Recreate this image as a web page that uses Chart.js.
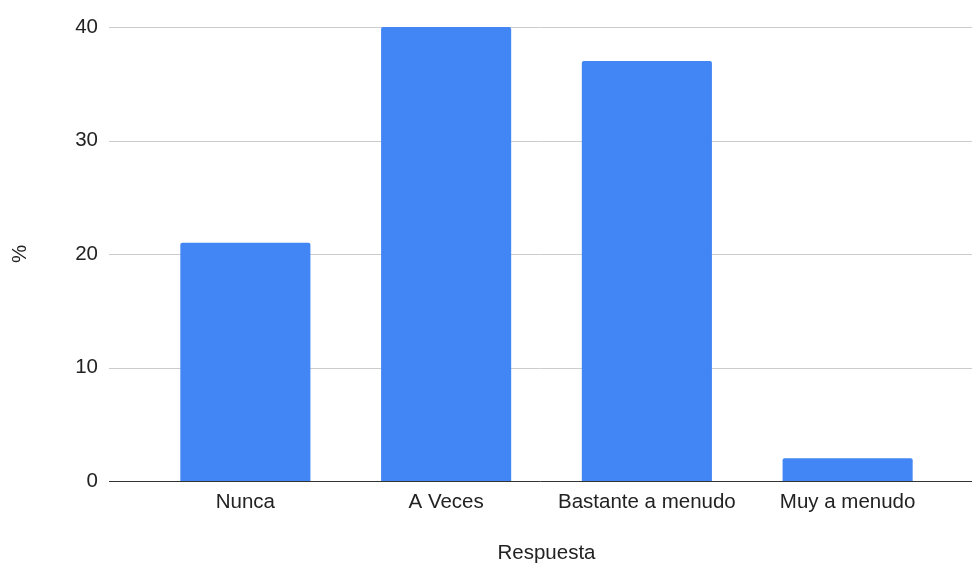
<!DOCTYPE html>
<html>
<head>
<meta charset="utf-8">
<script src="https://cdn.jsdelivr.net/npm/chart.js@4"></script>
<style>
  html, body { margin: 0; padding: 0; background: #fff; }
  #wrap { width: 972px; height: 564px; }
</style>
</head>
<body>
<div id="wrap"><canvas id="chartRespuesta" width="972" height="564"></canvas></div>
<script>
const categories = ["Nunca", "A Veces", "Bastante a menudo", "Muy a menudo"];
const percentages = [21, 40, 37, 2];
const xTitle = "Respuesta";
const yTitle = "%";

const FONT = "'Liberation Sans', Arial, sans-serif";
const FONT_SIZE = 20.5;

// gridlines in the reference run from the y labels out to the right edge,
// wider than the category area, so they are drawn here from the y scale
const wideGrid = {
  id: "wideGrid",
  beforeDatasetsDraw(chart) {
    const c = chart.ctx;
    const y = chart.scales.y;
    c.save();
    y.ticks.forEach(t => {
      const py = Math.round(y.getPixelForValue(t.value)) + 0.5;
      c.strokeStyle = t.value === 0 ? "#333333" : "#cccccc";
      c.lineWidth = 1;
      c.beginPath();
      c.moveTo(109, py);
      c.lineTo(chart.width, py);
      c.stroke();
    });
    c.restore();
  },
};

const ctx = document.getElementById("chartRespuesta").getContext("2d");

const chartRespuesta = new Chart(ctx, {
  type: "bar",
  data: {
    labels: categories,
    datasets: [
      {
        label: yTitle,
        data: percentages,
        backgroundColor: "#4285f4",
        borderRadius: { topLeft: 2, topRight: 2 },
        borderSkipped: "bottom",
        barPercentage: 0.648,
        categoryPercentage: 1,
      },
    ],
  },
  options: {
    responsive: false,
    maintainAspectRatio: false,
    animation: false,
    layout: {
      padding: { top: 27, right: 24, bottom: 0, left: 0 },
    },
    plugins: {
      legend: { display: false },
      tooltip: { enabled: false },
    },
    scales: {
      x: {
        grid: { display: false, drawTicks: false },
        border: { display: false },
        ticks: {
          color: "#222222",
          font: { family: FONT, size: FONT_SIZE },
          padding: 9.5,
          maxRotation: 0,
        },
        title: {
          display: true,
          text: xTitle,
          color: "#222222",
          font: { family: FONT, size: FONT_SIZE, lineHeight: 1 },
          padding: { top: 18.9, bottom: 0 },
        },
      },
      y: {
        min: 0,
        max: 40,
        grid: { display: false, drawTicks: true, tickLength: 47 },
        border: { display: false },
        ticks: {
          stepSize: 10,
          color: "#222222",
          font: { family: FONT, size: FONT_SIZE },
          padding: 0,
        },
        title: {
          display: true,
          text: yTitle,
          color: "#222222",
          font: { family: FONT, size: FONT_SIZE },
          padding: { top: 7.7, bottom: 42.9 },
        },
      },
    },
  },
  plugins: [wideGrid],
});
</script>
</body>
</html>
